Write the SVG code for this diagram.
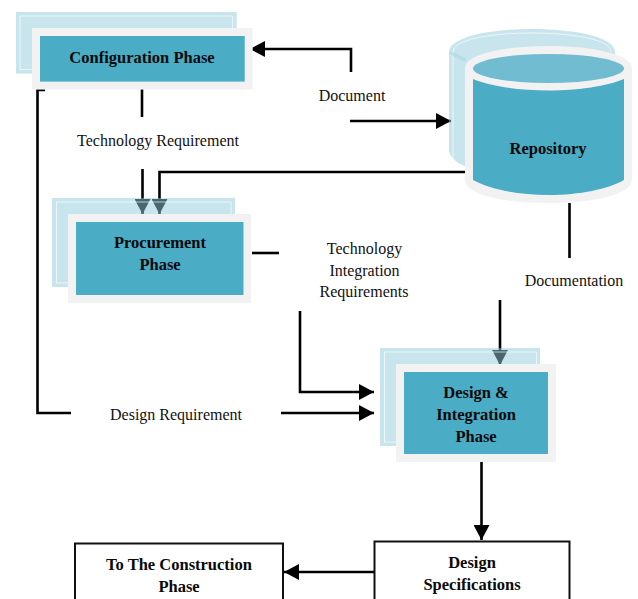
<svg xmlns="http://www.w3.org/2000/svg" width="638" height="599" viewBox="0 0 638 599">
<style>
text{font-family:"Liberation Serif","Times New Roman",serif;font-size:16px;fill:#111;text-anchor:middle}
.b{font-weight:bold;fill:#0a0a0a;font-size:16.5px}
.back{fill:#92cbdc;fill-opacity:.5}
.inner{fill:none;stroke:#fff;stroke-width:.8;opacity:.8}
.halo{fill:#f2f2f2}
.teal{fill:#4bacc6}
.plain{fill:#fff;stroke:#111;stroke-width:2}
.ln{fill:none;stroke:#000;stroke-width:2.6}
</style>
<defs>
<marker id="ah" markerUnits="userSpaceOnUse" markerWidth="16" markerHeight="16" refX="15" refY="8" orient="auto"><path d="M0,0L15,8L0,16Z" fill="#000"/></marker>
</defs>
<rect width="638" height="599" fill="#fff"/>
<g id="connectors">
<path class="ln" d="M351,72V49H250" marker-end="url(#ah)"/>
<path class="ln" d="M350,121H451" marker-end="url(#ah)"/>
<path class="ln" d="M142,89V117"/>
<path class="ln" d="M142.500,169V214" marker-end="url(#ah)"/>
<path class="ln" d="M466,172H159.500V214" marker-end="url(#ah)"/>
<path class="ln" d="M252,253H279"/>
<path class="ln" d="M300,311V392H374" marker-end="url(#ah)"/>
<path class="ln" d="M45,90H37.500V413H71"/>
<path class="ln" d="M281,413H374" marker-end="url(#ah)"/>
<path class="ln" d="M569.500,203V258"/>
<path class="ln" d="M500,300V365" marker-end="url(#ah)"/>
<path class="ln" d="M481.500,457V540" marker-end="url(#ah)"/>
<path class="ln" d="M374,572H284" marker-end="url(#ah)"/>
</g>
<g id="config">
<rect class="back" x="16" y="12" width="220.700" height="61.600"/>
<rect class="inner" x="20" y="16" width="212.500" height="53.500"/>
<rect class="halo" x="32" y="28" width="220.700" height="61.600"/>
<rect class="teal" x="40" y="36" width="204.700" height="45.600"/>
<text class="b" x="142" y="62.500">Configuration Phase</text>
</g>
<g id="procurement">
<rect class="back" x="52" y="198" width="183" height="89"/>
<rect class="inner" x="56.500" y="202" width="174.500" height="81"/>
<rect class="halo" x="68" y="214" width="183" height="89"/>
<rect class="teal" x="76" y="222" width="167.500" height="73"/>
<text class="b" x="160" y="247.500">Procurement</text>
<text class="b" x="160" y="269.500">Phase</text>
</g>
<g id="design">
<rect class="back" x="380" y="348" width="160" height="98"/>
<rect class="inner" x="384.500" y="352" width="152" height="90"/>
<rect class="halo" x="396" y="364" width="160" height="98"/>
<rect class="teal" x="404" y="372" width="144" height="82"/>
<text class="b" x="476" y="397.500">Design &amp;</text>
<text class="b" x="476" y="419.500">Integration</text>
<text class="b" x="476" y="441.500">Phase</text>
</g>
<g id="repository">
<path class="back" d="M449,52C449,38 486,29 532,29S615,38 615,52V150C615,165 578,178 532,178S449,165 449,150Z"/>
<path class="inner" d="M453,52C453,40 488,33 532,33S611,40 611,52M453,52V168"/>
<path fill="#92cbdc" fill-opacity=".35" d="M449,52C452,56 458,59 466,62V58C460,56 455,54 453,52Z"/>
<path class="halo" d="M465,68C465,55 502,46 548.500,46S632,55 632,68V180C632,194 595,203 548.500,203S465,194 465,180Z"/>
<path class="teal" d="M473,79C490,86 518,90.500 548.500,90.500S607,86 624,79V180C608,189 580,195 548.500,195S489,189 473,180Z"/>
<ellipse cx="548.500" cy="68.500" rx="75.500" ry="14.500" fill="#71bcd1"/>
<text class="b" x="548" y="154">Repository</text>
</g>
<g id="specs">
<rect class="plain" x="374.500" y="541.500" width="195" height="70"/>
<text class="b" x="472" y="567.500">Design</text>
<text class="b" x="472" y="589.500">Specifications</text>
</g>
<g id="construction">
<rect class="plain" x="75" y="543.500" width="208" height="70"/>
<text class="b" x="179" y="569.500">To The Construction</text>
<text class="b" x="179" y="591.500">Phase</text>
</g>
<g id="labels">
<text x="352" y="100.500">Document</text>
<text x="158" y="145.500">Technology Requirement</text>
<text x="364.500" y="253.500">Technology</text>
<text x="364.500" y="275.500">Integration</text>
<text x="364" y="296.500">Requirements</text>
<text x="574" y="285.500">Documentation</text>
<text x="176" y="419.500">Design Requirement</text>
</g>
</svg>
